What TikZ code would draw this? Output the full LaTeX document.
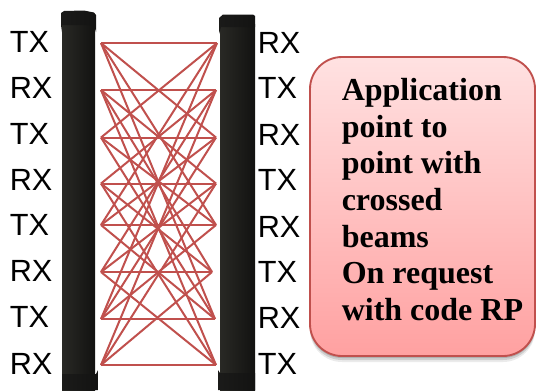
\documentclass[tikz,border=0pt]{standalone}
\usepackage{fontspec}
\setmainfont{Liberation Serif}
\newfontfamily\labelfont{Liberation Sans}
\usetikzlibrary{shadows}
\definecolor{beamred}{rgb}{0.753,0.314,0.302}
\definecolor{boxtop}{rgb}{1,0.885,0.885}
\definecolor{boxbottom}{rgb}{1,0.63,0.63}
\definecolor{postdark}{rgb}{0.07,0.07,0.065}
\definecolor{postmid}{rgb}{0.16,0.16,0.145}
\definecolor{postcap}{rgb}{0.105,0.105,0.1}
\tikzset{
    beam/.style={
           draw=beamred,
           line width=1.5pt,
           },
    post/.style={
           left color=postmid,
           middle color=postmid!80!postdark,
           right color=postdark,
           },
    postend/.style={
           left color=postcap,
           right color=postcap!70!black,
           },
    sidelabel/.style={
           anchor=base west,
           inner sep=0pt,
           font=\labelfont\fontsize{23}{23}\selectfont,
           },
    appbox/.style={
           rectangle,
           rounded corners=24pt,
           draw=beamred,
           line width=1.4pt,
           minimum width=168.75pt,
           minimum height=224.25pt,
           top color=boxtop,
           bottom color=boxbottom,
           drop shadow={shadow xshift=0pt, shadow yshift=-1.5pt, fill=black, opacity=0.15},
           drop shadow={shadow xshift=0pt, shadow yshift=-3pt, fill=black, opacity=0.12},
           drop shadow={shadow xshift=0pt, shadow yshift=-4.5pt, fill=black, opacity=0.08},
           },
    apptext/.style={
           anchor=west,
           inner sep=0pt,
           align=left,
           font=\bfseries\fontsize{24}{27.5}\selectfont,
           },
}
\begin{document}
\begin{tikzpicture}[x=0.75pt,y=-0.75pt]
      \useasboundingbox (0,0) rectangle (541,390);
      \shade[post] (62,20) rectangle (95,390);
      \shade[post] (220,24) rectangle (255,390);
      \shade[postend] (61,32) -- (61,13) -- (64,11) -- (84,10.5) -- (94,12.5) -- (96,15) -- (96,32) -- (94,25) -- (62,25) -- cycle;
      \shade[postend] (219,34) -- (219,18) -- (223,14.5) -- (253,14.5) -- (255,16) -- (255,27) -- (221,27) -- cycle;
      \shade[postend] (62,374) -- (96,374) -- (98,370) -- (98,390) -- (62,390) -- cycle;
      \shade[postend] (218,370) -- (220,373) -- (255,373) -- (255,390) -- (218,390) -- cycle;
      \foreach \i/\y in {1/43,2/90,3/137.5,4/183.5,5/225,6/272,7/319,8/365}
            \coordinate (l\i) at (101,\y);
      \foreach \i/\x/\y in {1/217/43,2/216/90,3/216/137.5,4/216/183.5,5/216/225,6/212/272,7/215/319,8/216/365}
            \coordinate (r\i) at (\x,\y);
      \foreach \a in {1,3,5,7}
            \foreach \b in {1,3,5,7}
                  \draw[beam] (l\a) -- (r\b);
      \foreach \a in {2,4,6,8}
            \foreach \b in {2,4,6,8}
                  \draw[beam] (l\a) -- (r\b);
      \foreach \i/\t/\y in {1/TX/52,2/RX/98,3/TX/144,4/RX/190,5/TX/235,6/RX/281,7/TX/327,8/RX/374}
            \node[sidelabel] (ltext\i) at (9.5,\y) {\t};
      \foreach \i/\t/\y in {1/RX/53,2/TX/98,3/RX/145,4/TX/190,5/RX/237,6/TX/282,7/RX/328,8/TX/374}
            \node[sidelabel] (rtext\i) at (257.5,\y) {\t};
      \node[appbox] (box) at (422.5,206.5) {};
      \node[apptext] (boxtext) at (341.5,199.5) {Application\\point to\\point with\\crossed\\beams\\On request\\with code RP};
\end{tikzpicture}
\end{document}
